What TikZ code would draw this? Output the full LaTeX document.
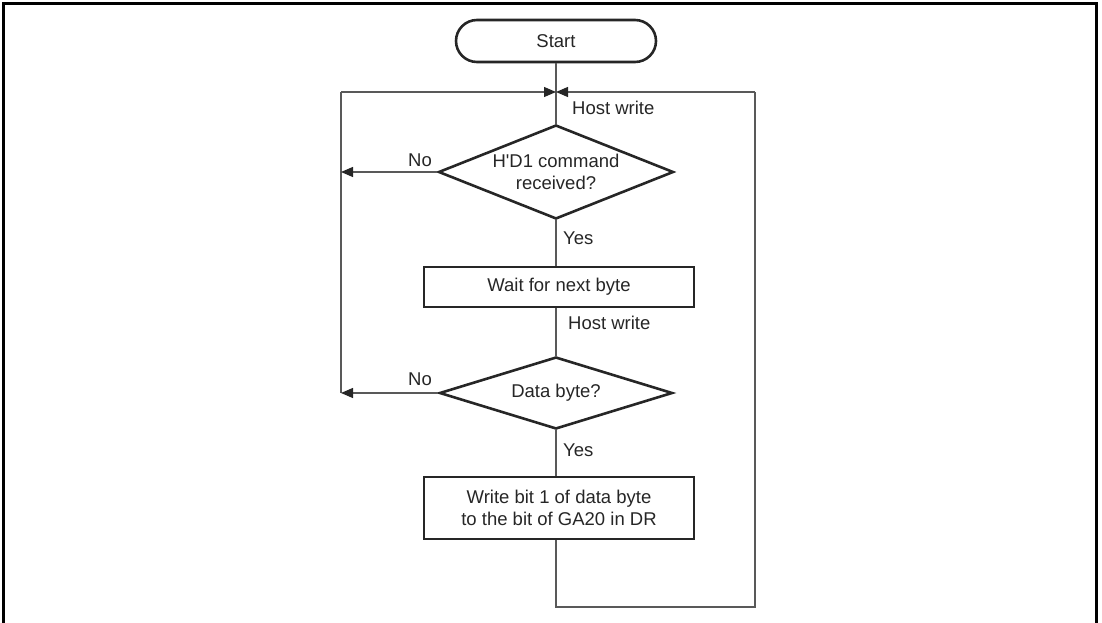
\documentclass[tikz,border=0pt]{standalone}
\usepackage{fontspec}
\setmainfont{Liberation Sans}
\usetikzlibrary{shapes.geometric,arrows.meta}
\begin{document}
\begin{tikzpicture}[x=1pt,y=-1pt,
 every node/.style={font=\fontsize{18.5}{22.5}\selectfont, text=black!85},
 shapeline/.style={draw=black!85, line width=2.6pt},
 term/.style={shapeline, rectangle, rounded corners=21pt, minimum width=200pt, minimum height=42pt, inner sep=0},
 proc/.style={shapeline, rectangle, minimum width=270pt, inner sep=0, align=center},
 dec/.style={shapeline, diamond, aspect=2.5, inner sep=0, align=center},
 conn/.style={draw=black!65, line width=1.2pt},
 arr/.style={conn, -{Triangle[length=12pt,width=10pt,fill=black!85,color=black!85]}},
 lbl/.style={inner sep=0}]
\useasboundingbox (0,0) rectangle (1102,623);
\draw[line width=3pt] (3.5,630) -- (3.5,4) -- (1096,4) -- (1096,630);
\node[term] (start) at (556,41) {Start};
\coordinate (merge) at (556,92);
\coordinate (lt) at (341,92);
\coordinate (rt) at (755,92);
\coordinate (rb) at (755,607);
\coordinate (bb) at (556,607);
\node[dec, minimum width=235pt, minimum height=94pt] (d1) at (556,172) {H\textquotesingle D1 command\\received?};
\node[proc, minimum height=40pt] (b1) at (559,287) {Wait for next byte};
\node[dec, minimum width=233pt, minimum height=72pt] (d2) at (556,393) {Data byte?};
\node[proc, minimum height=62pt] (b2) at (559,508) {Write bit 1 of data byte\\to the bit of GA20 in DR};
% main flow
\draw[conn] (start) -- (d1.north);
\draw[conn] (d1.south) -- (d1.south |- b1.north);
\draw[conn] (d2.north |- b1.south) -- (d2.north);
\draw[conn] (d2.south) -- (d2.south |- b2.north);
% loops
\draw[conn] (d1.south |- b2.south) -- (bb) -- (rb) -- (rt);
\draw[arr] (rt) -- (merge);
\draw[arr] (lt) -- (merge);
\draw[conn] (lt) -- (lt |- d2.west);
\draw[arr] (d1.west) -- (d1.west -| lt);
\draw[arr] (d2.west) -- (d2.west -| lt);
% labels
\node[lbl, anchor=west] (hw1) at (572,108) {Host write};
\node[lbl] (no1) at (420,160) {No};
\node[lbl, anchor=west] (yes1) at (563,238) {Yes};
\node[lbl, anchor=west] (hw2) at (568,323) {Host write};
\node[lbl] (no2) at (420,379) {No};
\node[lbl, anchor=west] (yes2) at (563,450) {Yes};
\end{tikzpicture}
\end{document}
